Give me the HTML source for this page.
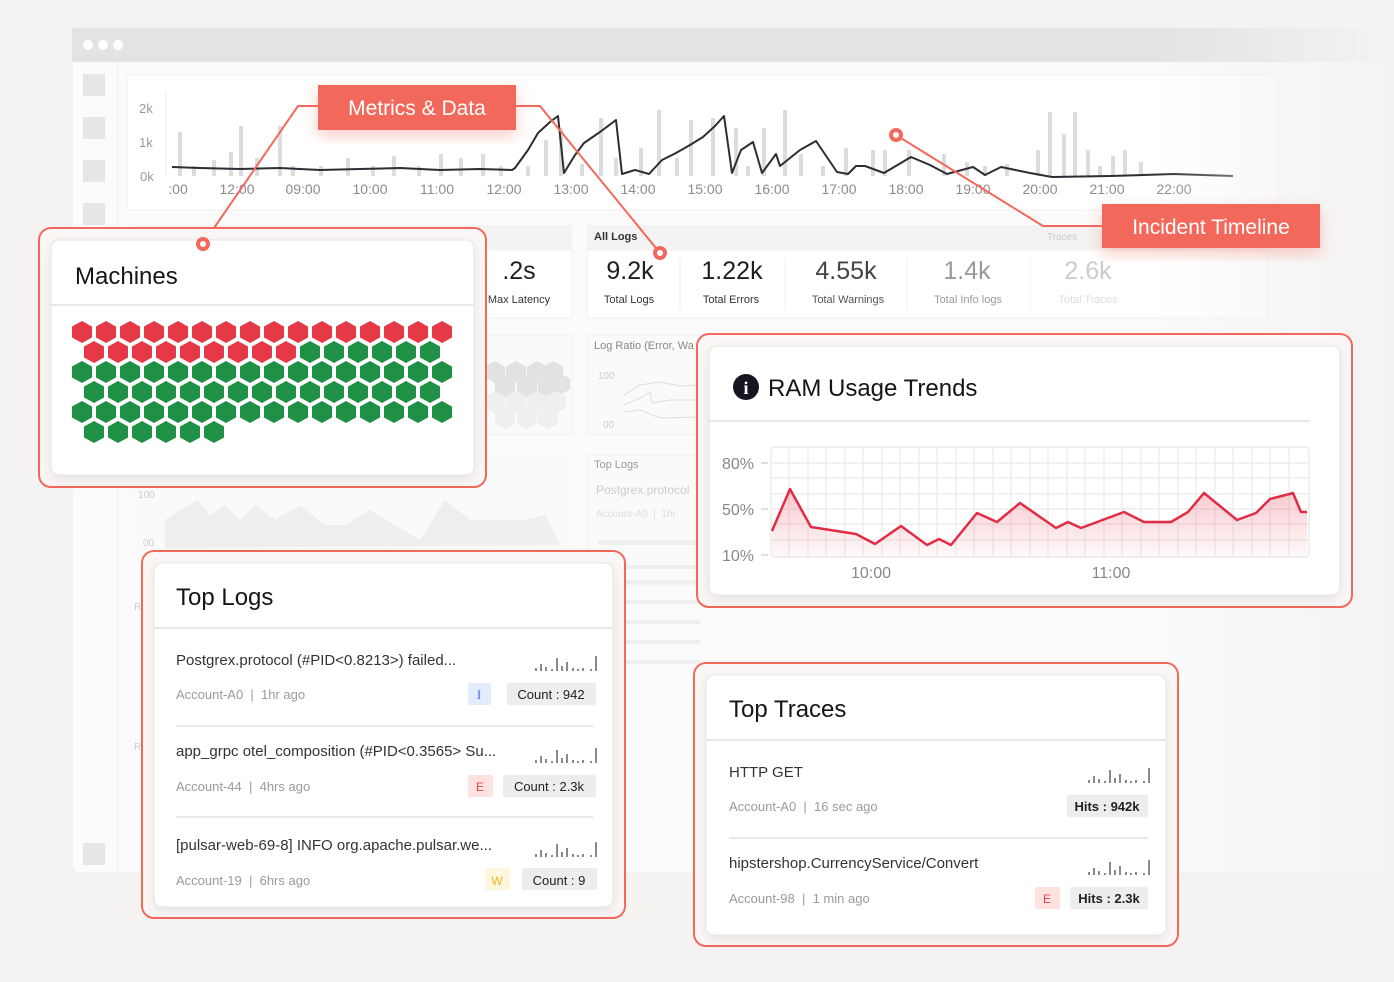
<!DOCTYPE html>
<html><head><meta charset="utf-8"><style>
html,body{margin:0;padding:0;background:#f4f3f2;}
svg{display:block;font-family:"Liberation Sans",sans-serif;}
text{white-space:pre;}
</style></head><body>
<svg width="1394" height="982" viewBox="0 0 1394 982" xmlns="http://www.w3.org/2000/svg">
<defs>
<linearGradient id="fade" x1="0" x2="1" y1="0" y2="0">
<stop offset="0" stop-color="#f4f3f2" stop-opacity="0"/>
<stop offset="1" stop-color="#f4f3f2" stop-opacity="1"/>
</linearGradient>
<linearGradient id="ramfill" x1="0" x2="0" y1="0" y2="1">
<stop offset="0" stop-color="#e8485a" stop-opacity="0.3"/>
<stop offset="1" stop-color="#e8485a" stop-opacity="0.03"/>
</linearGradient>
<polygon id="hx" points="0,-11 10,-5.5 10,5.5 0,11 -10,5.5 -10,-5.5"/>
<g id="spk" fill="#8a8a8a">
<rect x="0" y="-3" width="2" height="3"/><rect x="5" y="-7" width="2" height="7"/><rect x="10" y="-4" width="2" height="4"/><rect x="16" y="-2" width="2" height="2"/><rect x="21" y="-13" width="2" height="13"/><rect x="26" y="-5" width="2" height="5"/><rect x="31" y="-9" width="2" height="9"/><rect x="37" y="-3" width="2" height="3"/><rect x="42" y="-2" width="2" height="2"/><rect x="47" y="-3" width="2" height="3"/><rect x="55" y="-2" width="2" height="2"/><rect x="60" y="-15" width="2" height="15"/>
</g>
<filter id="sh" x="-20%" y="-20%" width="140%" height="150%"><feDropShadow dx="0" dy="6" stdDeviation="8" flood-color="#f2695c" flood-opacity="0.35"/></filter>
<filter id="csh" x="-10%" y="-10%" width="120%" height="130%"><feDropShadow dx="0" dy="4" stdDeviation="6" flood-color="#000" flood-opacity="0.08"/></filter>
</defs>

<rect x="72" y="28" width="1322" height="845" rx="6" fill="#fbfbfb" stroke="#ececec"/>
<rect x="72" y="28" width="1322" height="34" fill="#e3e3e3"/>
<circle cx="88" cy="45" r="5" fill="#fff"/><circle cx="103" cy="45" r="5" fill="#fff"/><circle cx="118" cy="45" r="5" fill="#fff"/>
<line x1="118" y1="62" x2="118" y2="873" stroke="#eeeeee"/>
<g fill="#e6e6e6">
<rect x="83" y="74" width="22" height="22"/><rect x="83" y="117" width="22" height="22"/><rect x="83" y="160" width="22" height="22"/><rect x="83" y="203" width="22" height="22"/><rect x="83" y="843" width="22" height="22"/>
</g>

<rect x="127" y="75" width="1150" height="135" fill="#fff" stroke="#f0f0f0"/>
<g font-size="13" fill="#9a9a9a">
<text x="139" y="113">2k</text><text x="139" y="147">1k</text><text x="140" y="181">0k</text>
</g>
<line x1="166" y1="90" x2="166" y2="176" stroke="#eee"/>
<g fill="#dcdcdc">
<rect x="178" y="132" width="4" height="44"/><rect x="192" y="166" width="4" height="10"/><rect x="212" y="160" width="4" height="16"/><rect x="229" y="152" width="4" height="24"/><rect x="239" y="126" width="4" height="50"/><rect x="255" y="158" width="4" height="18"/><rect x="278" y="126" width="4" height="50"/><rect x="291" y="166" width="4" height="10"/><rect x="319" y="166" width="4" height="10"/><rect x="346" y="158" width="4" height="18"/><rect x="371" y="166" width="4" height="10"/><rect x="392" y="156" width="4" height="20"/><rect x="417" y="166" width="4" height="10"/><rect x="439" y="154" width="4" height="22"/><rect x="459" y="158" width="4" height="18"/><rect x="481" y="154" width="4" height="22"/><rect x="499" y="166" width="4" height="10"/><rect x="526" y="166" width="4" height="10"/><rect x="544" y="140" width="4" height="36"/><rect x="559" y="128" width="4" height="48"/><rect x="580" y="164" width="4" height="12"/><rect x="599" y="118" width="4" height="58"/><rect x="614" y="158" width="4" height="18"/><rect x="639" y="148" width="4" height="28"/><rect x="657" y="110" width="4" height="66"/><rect x="675" y="158" width="4" height="18"/><rect x="689" y="120" width="4" height="56"/><rect x="711" y="118" width="4" height="58"/><rect x="734" y="128" width="4" height="48"/><rect x="746" y="166" width="4" height="10"/><rect x="762" y="128" width="4" height="48"/><rect x="783" y="110" width="4" height="66"/><rect x="799" y="154" width="4" height="22"/><rect x="821" y="166" width="4" height="10"/><rect x="844" y="148" width="4" height="28"/><rect x="871" y="150" width="4" height="26"/><rect x="883" y="150" width="4" height="26"/><rect x="907" y="150" width="4" height="26"/><rect x="942" y="154" width="4" height="22"/><rect x="965" y="162" width="4" height="14"/><rect x="983" y="166" width="4" height="10"/><rect x="1005" y="164" width="4" height="12"/><rect x="1036" y="150" width="4" height="26"/><rect x="1048" y="112" width="4" height="64"/><rect x="1062" y="134" width="4" height="42"/><rect x="1073" y="112" width="4" height="64"/><rect x="1086" y="150" width="4" height="26"/><rect x="1098" y="166" width="4" height="10"/><rect x="1111" y="156" width="4" height="20"/><rect x="1123" y="150" width="4" height="26"/><rect x="1139" y="162" width="4" height="14"/>
</g>
<polyline fill="none" stroke="#2d2d33" stroke-width="2" stroke-linejoin="round" points="172,167 200,168 240,169 280,168 320,170 360,169 400,168 440,170 480,169 512,170 515,168 528,150 538,133 550,122 558,116 564,173 575,155 584,143 600,132 616,120 622,174 635,170 649,174 662,160 676,153 690,145 703,137 715,126 724,116 732,173 741,150 753,142 762,173 776,154 780,166 800,150 816,141 837,172 848,174 856,166 865,166 884,173 911,157 930,165 947,174 973,167 985,175 1001,167 1030,173 1052,177 1111,176 1174,174 1233,176"/>
<g font-size="14" fill="#8c8c8c" text-anchor="middle">
<text x="178" y="194">:00</text><text x="237" y="194">12:00</text><text x="303" y="194">09:00</text><text x="370" y="194">10:00</text><text x="437" y="194">11:00</text><text x="504" y="194">12:00</text><text x="571" y="194">13:00</text><text x="638" y="194">14:00</text><text x="705" y="194">15:00</text><text x="772" y="194">16:00</text><text x="839" y="194">17:00</text><text x="906" y="194">18:00</text><text x="973" y="194">19:00</text><text x="1040" y="194">20:00</text><text x="1107" y="194">21:00</text><text x="1174" y="194">22:00</text>
</g>

<rect x="130" y="225" width="442" height="28" fill="#f3f3f3"/>
<rect x="130" y="250" width="442" height="68" fill="#fff" stroke="#f0f0f0"/>
<text x="519" y="279" font-size="25" fill="#1e1e24" text-anchor="middle">.2s</text>
<text x="519" y="303" font-size="11" fill="#333" text-anchor="middle">Max Latency</text>
<rect x="587" y="225" width="680" height="28" fill="#f3f3f3"/>
<text x="594" y="240" font-size="11" fill="#333" font-weight="bold">All Logs</text>
<rect x="587" y="250" width="680" height="68" fill="#fff" stroke="#f0f0f0"/>
<text x="1062" y="240" font-size="10" fill="#ccc" text-anchor="middle">Traces</text>
<g text-anchor="middle">
<text x="630" y="279" font-size="25" fill="#1e1e24">9.2k</text><text x="629" y="303" font-size="11" fill="#333">Total Logs</text>
<text x="732" y="279" font-size="25" fill="#1e1e24">1.22k</text><text x="731" y="303" font-size="11" fill="#333">Total Errors</text>
<text x="846" y="279" font-size="25" fill="#444">4.55k</text><text x="848" y="303" font-size="11" fill="#555">Total Warnings</text>
<text x="967" y="279" font-size="25" fill="#999">1.4k</text><text x="968" y="303" font-size="11" fill="#999">Total Info logs</text>
<text x="1088" y="279" font-size="25" fill="#ccc">2.6k</text><text x="1088" y="303" font-size="11" fill="#ddd">Total Traces</text>
</g>
<line x1="680" y1="258" x2="680" y2="310" stroke="#eee"/><line x1="785" y1="258" x2="785" y2="310" stroke="#eee"/><line x1="907" y1="258" x2="907" y2="310" stroke="#eee"/><line x1="1030" y1="258" x2="1030" y2="310" stroke="#f3f3f3"/>
<rect x="480" y="335" width="92" height="100" fill="#fafafa" stroke="#f2f2f2"/>
<g fill="#e2e2e2">
<use href="#hx" x="495" y="372"/><use href="#hx" x="516" y="372"/><use href="#hx" x="537" y="372"/><use href="#hx" x="553" y="372"/>
<use href="#hx" x="505" y="387"/><use href="#hx" x="527" y="387"/><use href="#hx" x="548" y="387"/><use href="#hx" x="560" y="384"/>
</g>
<g fill="#efefef">
<use href="#hx" x="495" y="402"/><use href="#hx" x="516" y="402"/><use href="#hx" x="537" y="402"/><use href="#hx" x="556" y="402"/>
<use href="#hx" x="505" y="418"/><use href="#hx" x="527" y="418"/><use href="#hx" x="548" y="418"/>
</g>
<rect x="587" y="335" width="115" height="100" fill="#fafafa" stroke="#f2f2f2"/>
<text x="594" y="349" font-size="11" fill="#888">Log Ratio (Error, Wa</text>
<text x="598" y="379" font-size="10" fill="#ccc">100</text><text x="603" y="428" font-size="10" fill="#ccc">00</text>
<polyline fill="none" stroke="#ddd" points="624,395 640,385 660,382 680,386 700,385"/>
<polyline fill="none" stroke="#ddd" points="624,405 640,398 650,392 652,403 670,400 700,400"/>
<polyline fill="none" stroke="#ddd" points="624,412 640,410 660,418 700,417"/>
<rect x="587" y="455" width="115" height="130" fill="#fafafa" stroke="#f2f2f2"/>
<text x="594" y="468" font-size="11" fill="#999">Top Logs</text>
<text x="596" y="494" font-size="12" fill="#ccc">Postgrex.protocol</text>
<text x="596" y="517" font-size="10" fill="#ddd">Account-A0  |  1hr</text>
<g fill="#eeeeee"><rect x="598" y="540" width="100" height="5"/><rect x="598" y="565" width="100" height="4"/><rect x="598" y="580" width="100" height="4"/><rect x="625" y="600" width="75" height="4"/><rect x="625" y="620" width="75" height="4"/><rect x="625" y="640" width="75" height="4"/><rect x="625" y="660" width="75" height="4"/></g>
<rect x="130" y="450" width="442" height="110" fill="#fafafa"/>
<text x="138" y="498" font-size="10" fill="#ccc">100</text><text x="143" y="546" font-size="10" fill="#ccc">00</text>
<polygon fill="#eeeeee" points="165,520 180,510 198,500 210,515 225,505 240,520 255,505 275,520 300,505 325,525 345,525 370,510 395,525 420,540 445,500 470,520 500,520 525,520 545,515 560,545 165,548"/>
<text x="134" y="610" font-size="10" fill="#ccc">R</text><text x="134" y="750" font-size="10" fill="#ccc">R</text>

<rect x="1150" y="20" width="244" height="870" fill="url(#fade)"/>

<g stroke="#f2695c" stroke-width="2" fill="none">
<polyline points="318,106 298,106 203,244"/>
<polyline points="516,106 540,106 660,253"/>
<polyline points="896,135 1043,226 1102,226"/>
</g>

<rect x="39" y="228" width="447" height="259" rx="12" fill="#fbf7f6" stroke="#f2695c" stroke-width="2"/>
<rect x="51" y="240" width="423" height="235" rx="8" fill="#fff" stroke="#e6e6e6" filter="url(#csh)"/>
<line x1="51" y1="305" x2="474" y2="305" stroke="#e8e8e8" stroke-width="2"/>
<text x="75" y="284" font-size="24" fill="#15151a">Machines</text>
<g fill="#e63946">
<use href="#hx" x="82" y="332"/><use href="#hx" x="106" y="332"/><use href="#hx" x="130" y="332"/><use href="#hx" x="154" y="332"/><use href="#hx" x="178" y="332"/><use href="#hx" x="202" y="332"/><use href="#hx" x="226" y="332"/><use href="#hx" x="250" y="332"/><use href="#hx" x="274" y="332"/><use href="#hx" x="298" y="332"/><use href="#hx" x="322" y="332"/><use href="#hx" x="346" y="332"/><use href="#hx" x="370" y="332"/><use href="#hx" x="394" y="332"/><use href="#hx" x="418" y="332"/><use href="#hx" x="442" y="332"/>
<use href="#hx" x="94" y="352"/><use href="#hx" x="118" y="352"/><use href="#hx" x="142" y="352"/><use href="#hx" x="166" y="352"/><use href="#hx" x="190" y="352"/><use href="#hx" x="214" y="352"/><use href="#hx" x="238" y="352"/><use href="#hx" x="262" y="352"/><use href="#hx" x="286" y="352"/>
</g>
<g fill="#1f9147">
<use href="#hx" x="310" y="352"/><use href="#hx" x="334" y="352"/><use href="#hx" x="358" y="352"/><use href="#hx" x="382" y="352"/><use href="#hx" x="406" y="352"/><use href="#hx" x="430" y="352"/>
<use href="#hx" x="82" y="372"/><use href="#hx" x="106" y="372"/><use href="#hx" x="130" y="372"/><use href="#hx" x="154" y="372"/><use href="#hx" x="178" y="372"/><use href="#hx" x="202" y="372"/><use href="#hx" x="226" y="372"/><use href="#hx" x="250" y="372"/><use href="#hx" x="274" y="372"/><use href="#hx" x="298" y="372"/><use href="#hx" x="322" y="372"/><use href="#hx" x="346" y="372"/><use href="#hx" x="370" y="372"/><use href="#hx" x="394" y="372"/><use href="#hx" x="418" y="372"/><use href="#hx" x="442" y="372"/>
<use href="#hx" x="94" y="392"/><use href="#hx" x="118" y="392"/><use href="#hx" x="142" y="392"/><use href="#hx" x="166" y="392"/><use href="#hx" x="190" y="392"/><use href="#hx" x="214" y="392"/><use href="#hx" x="238" y="392"/><use href="#hx" x="262" y="392"/><use href="#hx" x="286" y="392"/><use href="#hx" x="310" y="392"/><use href="#hx" x="334" y="392"/><use href="#hx" x="358" y="392"/><use href="#hx" x="382" y="392"/><use href="#hx" x="406" y="392"/><use href="#hx" x="430" y="392"/>
<use href="#hx" x="82" y="412"/><use href="#hx" x="106" y="412"/><use href="#hx" x="130" y="412"/><use href="#hx" x="154" y="412"/><use href="#hx" x="178" y="412"/><use href="#hx" x="202" y="412"/><use href="#hx" x="226" y="412"/><use href="#hx" x="250" y="412"/><use href="#hx" x="274" y="412"/><use href="#hx" x="298" y="412"/><use href="#hx" x="322" y="412"/><use href="#hx" x="346" y="412"/><use href="#hx" x="370" y="412"/><use href="#hx" x="394" y="412"/><use href="#hx" x="418" y="412"/><use href="#hx" x="442" y="412"/>
<use href="#hx" x="94" y="432"/><use href="#hx" x="118" y="432"/><use href="#hx" x="142" y="432"/><use href="#hx" x="166" y="432"/><use href="#hx" x="190" y="432"/><use href="#hx" x="214" y="432"/>
</g>

<rect x="697" y="334" width="655" height="273" rx="12" fill="#fbf7f6" stroke="#f2695c" stroke-width="2"/>
<rect x="709" y="346" width="631" height="249" rx="8" fill="#fff" stroke="#e6e6e6" filter="url(#csh)"/>
<circle cx="746" cy="387" r="13" fill="#15151f"/>
<text x="746" y="394" font-size="18" font-weight="bold" fill="#fff" text-anchor="middle" font-family="Liberation Serif, serif">i</text>
<text x="768" y="396" font-size="24" fill="#15151a">RAM Usage Trends</text>
<line x1="709" y1="421" x2="1310" y2="421" stroke="#e8e8e8" stroke-width="2"/>
<rect x="771" y="447" width="538" height="110" rx="4" fill="#fff" stroke="#e0e0e0"/>
<g stroke="#e6e6e6" stroke-width="1">
<line x1="789" y1="447" x2="789" y2="557"/><line x1="808" y1="447" x2="808" y2="557"/><line x1="826" y1="447" x2="826" y2="557"/><line x1="845" y1="447" x2="845" y2="557"/><line x1="863" y1="447" x2="863" y2="557"/><line x1="882" y1="447" x2="882" y2="557"/><line x1="900" y1="447" x2="900" y2="557"/><line x1="919" y1="447" x2="919" y2="557"/><line x1="937" y1="447" x2="937" y2="557"/><line x1="956" y1="447" x2="956" y2="557"/><line x1="974" y1="447" x2="974" y2="557"/><line x1="993" y1="447" x2="993" y2="557"/><line x1="1011" y1="447" x2="1011" y2="557"/><line x1="1030" y1="447" x2="1030" y2="557"/><line x1="1048" y1="447" x2="1048" y2="557"/><line x1="1067" y1="447" x2="1067" y2="557"/><line x1="1085" y1="447" x2="1085" y2="557"/><line x1="1104" y1="447" x2="1104" y2="557"/><line x1="1122" y1="447" x2="1122" y2="557"/><line x1="1141" y1="447" x2="1141" y2="557"/><line x1="1159" y1="447" x2="1159" y2="557"/><line x1="1178" y1="447" x2="1178" y2="557"/><line x1="1196" y1="447" x2="1196" y2="557"/><line x1="1215" y1="447" x2="1215" y2="557"/><line x1="1233" y1="447" x2="1233" y2="557"/><line x1="1252" y1="447" x2="1252" y2="557"/><line x1="1270" y1="447" x2="1270" y2="557"/><line x1="1289" y1="447" x2="1289" y2="557"/>
<line x1="771" y1="463" x2="1309" y2="463"/><line x1="771" y1="478" x2="1309" y2="478"/><line x1="771" y1="494" x2="1309" y2="494"/><line x1="771" y1="509" x2="1309" y2="509"/><line x1="771" y1="524" x2="1309" y2="524"/><line x1="771" y1="540" x2="1309" y2="540"/>
</g>
<polygon fill="url(#ramfill)" points="772,531 790,489 811,527 856,534 875,544 901,526 927,545 939,539 951,545 977,513 997,522 1020,503 1056,528 1068,522 1081,528 1124,512 1144,522 1171,522 1188,512 1204,493 1237,520 1256,513 1270,499 1293,493 1301,512 1307,512 1307,557 772,557"/>
<polyline fill="none" stroke="#e02d45" stroke-width="2.5" stroke-linejoin="round" points="772,531 790,489 811,527 856,534 875,544 901,526 927,545 939,539 951,545 977,513 997,522 1020,503 1056,528 1068,522 1081,528 1124,512 1144,522 1171,522 1188,512 1204,493 1237,520 1256,513 1270,499 1293,493 1301,512 1307,512"/>
<g font-size="16" fill="#888">
<text x="722" y="469">80%</text><text x="722" y="515">50%</text><text x="722" y="561">10%</text>
<text x="871" y="578" text-anchor="middle">10:00</text><text x="1111" y="578" text-anchor="middle">11:00</text>
</g>
<g stroke="#bbb"><line x1="761" y1="463" x2="768" y2="463"/><line x1="761" y1="509" x2="768" y2="509"/><line x1="761" y1="555" x2="768" y2="555"/></g>

<rect x="142" y="551" width="483" height="367" rx="12" fill="#fbf7f6" stroke="#f2695c" stroke-width="2"/>
<rect x="154" y="563" width="459" height="344" rx="8" fill="#fff" stroke="#e6e6e6" filter="url(#csh)"/>
<text x="176" y="605" font-size="24" fill="#15151a">Top Logs</text>
<line x1="154" y1="628" x2="613" y2="628" stroke="#e8e8e8" stroke-width="2"/>
<g font-size="15" fill="#333">
<text x="176" y="665">Postgrex.protocol (#PID&lt;0.8213&gt;) failed...</text>
<text x="176" y="756">app_grpc otel_composition (#PID&lt;0.3565&gt; Su...</text>
<text x="176" y="850">[pulsar-web-69-8] INFO org.apache.pulsar.we...</text>
</g>
<g font-size="13" fill="#9a9a9a">
<text x="176" y="699">Account-A0  |  1hr ago</text>
<text x="176" y="791">Account-44  |  4hrs ago</text>
<text x="176" y="885">Account-19  |  6hrs ago</text>
</g>
<line x1="176" y1="726" x2="593" y2="726" stroke="#e8e8e8" stroke-width="2"/>
<line x1="176" y1="817" x2="593" y2="817" stroke="#e8e8e8" stroke-width="2"/>
<use href="#spk" x="535" y="671"/><use href="#spk" x="535" y="763"/><use href="#spk" x="535" y="857"/>
<rect x="468" y="683" width="23" height="22" rx="2" fill="#e3ecfc"/><text x="479" y="699" font-size="13" fill="#3b6fd8" text-anchor="middle" font-family="Liberation Serif, serif">I</text>
<rect x="507" y="683" width="89" height="22" rx="2" fill="#ededed"/><text x="551" y="699" font-size="13" fill="#222" text-anchor="middle">Count : 942</text>
<rect x="468" y="775" width="25" height="22" rx="2" fill="#fde2df"/><text x="480" y="791" font-size="12" fill="#e0424c" text-anchor="middle">E</text>
<rect x="503" y="775" width="93" height="22" rx="2" fill="#ededed"/><text x="549" y="791" font-size="13" fill="#222" text-anchor="middle">Count : 2.3k</text>
<rect x="485" y="868" width="25" height="22" rx="2" fill="#fff6de"/><text x="497" y="885" font-size="12" fill="#f0b429" text-anchor="middle">W</text>
<rect x="522" y="868" width="75" height="22" rx="2" fill="#ededed"/><text x="559" y="885" font-size="13" fill="#222" text-anchor="middle">Count : 9</text>

<rect x="694" y="663" width="484" height="283" rx="12" fill="#fbf7f6" stroke="#f2695c" stroke-width="2"/>
<rect x="706" y="675" width="460" height="260" rx="8" fill="#fff" stroke="#e6e6e6" filter="url(#csh)"/>
<text x="729" y="717" font-size="24" fill="#15151a">Top Traces</text>
<line x1="706" y1="740" x2="1166" y2="740" stroke="#e8e8e8" stroke-width="2"/>
<g font-size="15" fill="#333">
<text x="729" y="777">HTTP GET</text>
<text x="729" y="868">hipstershop.CurrencyService/Convert</text>
</g>
<g font-size="13" fill="#9a9a9a">
<text x="729" y="811">Account-A0  |  16 sec ago</text>
<text x="729" y="903">Account-98  |  1 min ago</text>
</g>
<line x1="729" y1="838" x2="1148" y2="838" stroke="#e8e8e8" stroke-width="2"/>
<use href="#spk" x="1088" y="783"/><use href="#spk" x="1088" y="875"/>
<rect x="1067" y="795" width="81" height="22" rx="2" fill="#ededed"/><text x="1107" y="811" font-size="13" fill="#222" text-anchor="middle" font-weight="bold">Hits : 942k</text>
<rect x="1035" y="887" width="25" height="22" rx="2" fill="#fde2df"/><text x="1047" y="903" font-size="12" fill="#e0424c" text-anchor="middle">E</text>
<rect x="1070" y="887" width="78" height="22" rx="2" fill="#ededed"/><text x="1109" y="903" font-size="13" fill="#222" text-anchor="middle" font-weight="bold">Hits : 2.3k</text>

<rect x="318" y="85" width="198" height="45" fill="#f2695c" filter="url(#sh)"/>
<text x="417" y="115" font-size="21" fill="#fff" text-anchor="middle">Metrics &amp; Data</text>
<rect x="1102" y="204" width="218" height="44" fill="#f2695c" filter="url(#sh)"/>
<text x="1211" y="234" font-size="21" fill="#fff" text-anchor="middle">Incident Timeline</text>

<g fill="#fff" stroke="#f2695c" stroke-width="4">
<circle cx="203" cy="244" r="5"/><circle cx="660" cy="253" r="5"/><circle cx="896" cy="135" r="5"/>
</g>
</svg>
</body></html>
